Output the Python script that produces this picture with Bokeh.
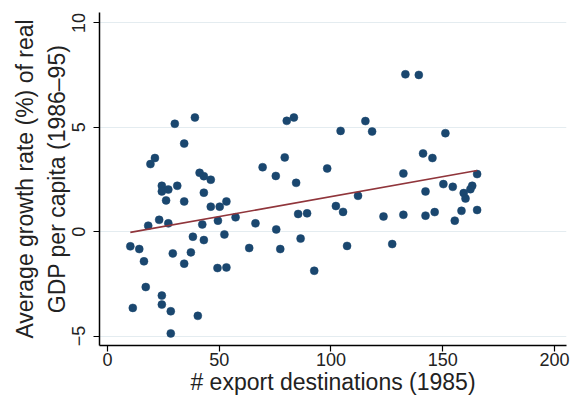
import numpy as np
from bokeh.plotting import figure
from bokeh.models import ColumnDataSource, FixedTicker, Range1d
from bokeh.embed import file_html
from bokeh.resources import INLINE

# number of export destinations in 1985
export_destinations = [
    10.2, 14.2, 16.3, 17.1, 11.3, 24.3, 24.3, 28.3, 28.3, 40.4,
    29.2, 34.3, 37.3, 38.2, 43.1, 49.2, 53.2, 52.3, 18.2, 23.1,
    27.2, 42.4, 49.4, 57.3, 26.2, 34.3, 46.2, 50.2, 53.2, 43.1,
    24.3, 24.3, 27.2, 31.2, 19.2, 21.2, 30.1, 39.1, 34.3, 41.2,
    43.1, 46.2, 69.4, 75.3, 79.3, 80.2, 83.4, 104.3, 84.4, 98.3,
    102.2, 105.4, 112.1, 85.3, 89.3, 66.2, 75.5, 63.4, 77.3, 86.4,
    107.2, 92.5, 133.3, 139.3, 115.4, 118.4, 151.2, 141.2, 145.4, 132.4,
    165.4, 150.3, 154.5, 163.2, 162.4, 159.4, 160.2, 142.3, 123.5, 132.4,
    142.3, 146.4, 155.4, 158.4, 165.4, 127.4,
]
# average growth rate (%) of real GDP per capita 1986-95
growth_rate = [
    -0.70, -0.83, -1.42, -2.65, -3.65, -3.06, -3.49, -3.81, -4.87, -4.03,
    -1.04, -1.53, -0.99, -0.24, -0.40, -1.74, -1.71, -0.13, 0.29, 0.57,
    0.40, 0.35, 0.53, 0.69, 1.50, 1.45, 1.20, 1.20, 1.45, 1.87,
    2.20, 1.93, 2.02, 2.20, 3.24, 3.53, 5.17, 5.47, 4.22, 2.82,
    2.66, 2.49, 3.09, 2.67, 3.56, 5.31, 5.47, 4.83, 2.34, 3.03,
    1.23, 0.95, 1.72, 0.85, 0.88, 0.40, 0.11, -0.78, -0.83, -0.33,
    -0.68, -1.87, 7.54, 7.51, 5.30, 4.80, 4.72, 3.75, 3.53, 2.79,
    2.76, 2.28, 2.15, 2.20, 2.04, 1.85, 1.59, 1.93, 0.73, 0.81,
    0.77, 0.94, 0.53, 1.00, 1.04, -0.59,
]

x_ticks = [0, 50, 100, 150, 200]
y_ticks = [-5, 0, 5, 10]
y_tick_labels = ["\u22125", "0", "5", "10"]
x_title = "# export destinations (1985)"
y_title = "Average growth rate (%) of real\nGDP per capita (1986\u201395)"

FONT = "Liberation Sans"

x = np.array(export_destinations)
y = np.array(growth_rate)
slope, intercept = np.polyfit(x, y, 1)
fit_x = [x.min(), x.max()]
fit_y = [intercept + slope * v for v in fit_x]

p = figure(width=574, height=397, output_backend="svg", toolbar_location=None,
           x_range=Range1d(-3.6, 205.4), y_range=Range1d(-5.45, 10.5),
           min_border_left=99, min_border_right=8, min_border_top=12,
           min_border_bottom=52)
p.background_fill_color = "white"
p.border_fill_color = "white"
p.outline_line_color = None

src = ColumnDataSource(dict(x=export_destinations, y=growth_rate))
p.scatter("x", "y", source=src, size=8, fill_color="#1a476f",
          line_color="#1a476f", line_width=0.5)
p.line(fit_x, fit_y, line_color="#90353b", line_width=1.6)

p.xgrid.grid_line_color = None
p.ygrid.grid_line_color = "#e4ecf0"
p.ygrid.grid_line_width = 1.2

p.xaxis.ticker = FixedTicker(ticks=x_ticks)
p.yaxis.ticker = FixedTicker(ticks=y_ticks)
p.yaxis.major_label_overrides = {t: l for t, l in zip(y_ticks, y_tick_labels)}
p.yaxis.major_label_orientation = "vertical"

for ax in (p.xaxis[0], p.yaxis[0]):
    ax.axis_line_color = "black"
    ax.axis_line_width = 1.5
    ax.major_tick_line_color = "black"
    ax.major_tick_line_width = 1.2
    ax.major_tick_out = 6
    ax.major_tick_in = 0
    ax.minor_tick_line_color = None
    ax.major_label_text_font = FONT
    ax.major_label_text_font_size = "18px"
    ax.major_label_text_color = "#222222"
    ax.axis_label_text_font = FONT
    ax.axis_label_text_font_size = "23px"
    ax.axis_label_text_font_style = "normal"
    ax.axis_label_text_color = "#222222"

p.xaxis.axis_label = x_title
p.yaxis.axis_label = y_title
p.xaxis.major_label_standoff = 1
p.xaxis.axis_label_standoff = 0
p.yaxis.major_label_standoff = 8
p.yaxis.axis_label_standoff = 0

open("out.html", "w").write(file_html(p, INLINE))
